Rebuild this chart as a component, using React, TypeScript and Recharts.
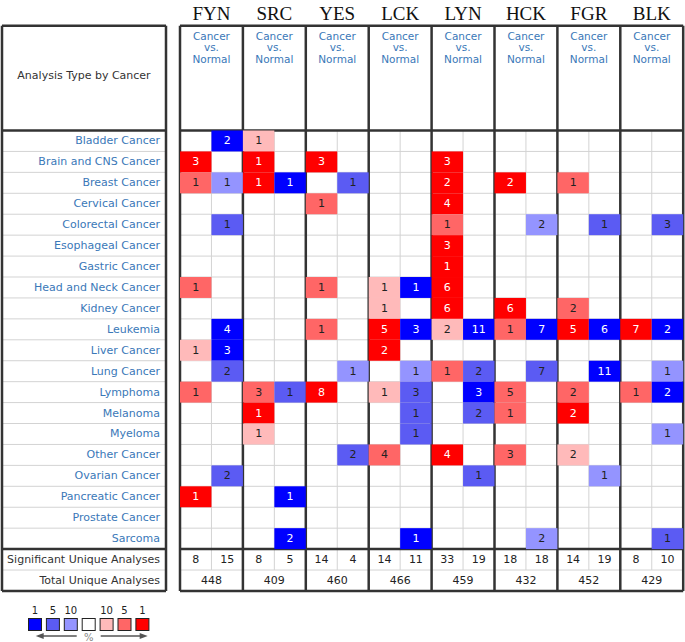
import React from "react";
import { ScatterChart, Scatter, XAxis, YAxis, ReferenceLine } from "recharts";

// ---- data ----
const GENES = ["FYN", "SRC", "YES", "LCK", "LYN", "HCK", "FGR", "BLK"];

const CANCERS = [
  "Bladder Cancer",
  "Brain and CNS Cancer",
  "Breast Cancer",
  "Cervical Cancer",
  "Colorectal Cancer",
  "Esophageal Cancer",
  "Gastric Cancer",
  "Head and Neck Cancer",
  "Kidney Cancer",
  "Leukemia",
  "Liver Cancer",
  "Lung Cancer",
  "Lymphoma",
  "Melanoma",
  "Myeloma",
  "Other Cancer",
  "Ovarian Cancer",
  "Pancreatic Cancer",
  "Prostate Cancer",
  "Sarcoma",
];

// [cancer, direction, number of analyses, gene rank threshold %]
type Entry = [string, "up" | "down", number, number];

const FYN: Entry[] = [
  ["Bladder Cancer", "down", 2, 1],
  ["Brain and CNS Cancer", "up", 3, 1],
  ["Breast Cancer", "up", 1, 5],
  ["Breast Cancer", "down", 1, 10],
  ["Colorectal Cancer", "down", 1, 5],
  ["Head and Neck Cancer", "up", 1, 5],
  ["Leukemia", "down", 4, 1],
  ["Liver Cancer", "up", 1, 10],
  ["Liver Cancer", "down", 3, 1],
  ["Lung Cancer", "down", 2, 5],
  ["Lymphoma", "up", 1, 5],
  ["Ovarian Cancer", "down", 2, 5],
  ["Pancreatic Cancer", "up", 1, 1],
];

const SRC: Entry[] = [
  ["Bladder Cancer", "up", 1, 10],
  ["Brain and CNS Cancer", "up", 1, 1],
  ["Breast Cancer", "up", 1, 1],
  ["Breast Cancer", "down", 1, 1],
  ["Lymphoma", "up", 3, 5],
  ["Lymphoma", "down", 1, 5],
  ["Melanoma", "up", 1, 1],
  ["Myeloma", "up", 1, 10],
  ["Pancreatic Cancer", "down", 1, 1],
  ["Sarcoma", "down", 2, 1],
];

const YES: Entry[] = [
  ["Brain and CNS Cancer", "up", 3, 1],
  ["Breast Cancer", "down", 1, 5],
  ["Cervical Cancer", "up", 1, 5],
  ["Head and Neck Cancer", "up", 1, 5],
  ["Leukemia", "up", 1, 5],
  ["Lung Cancer", "down", 1, 10],
  ["Lymphoma", "up", 8, 1],
  ["Other Cancer", "down", 2, 5],
];

const LCK: Entry[] = [
  ["Head and Neck Cancer", "up", 1, 10],
  ["Head and Neck Cancer", "down", 1, 1],
  ["Kidney Cancer", "up", 1, 10],
  ["Leukemia", "up", 5, 1],
  ["Leukemia", "down", 3, 1],
  ["Liver Cancer", "up", 2, 1],
  ["Lung Cancer", "down", 1, 10],
  ["Lymphoma", "up", 1, 10],
  ["Lymphoma", "down", 3, 5],
  ["Melanoma", "down", 1, 5],
  ["Myeloma", "down", 1, 5],
  ["Other Cancer", "up", 4, 5],
  ["Sarcoma", "down", 1, 1],
];

const LYN: Entry[] = [
  ["Brain and CNS Cancer", "up", 3, 1],
  ["Breast Cancer", "up", 2, 1],
  ["Cervical Cancer", "up", 4, 1],
  ["Colorectal Cancer", "up", 1, 5],
  ["Esophageal Cancer", "up", 3, 1],
  ["Gastric Cancer", "up", 1, 1],
  ["Head and Neck Cancer", "up", 6, 1],
  ["Kidney Cancer", "up", 6, 1],
  ["Leukemia", "up", 2, 10],
  ["Leukemia", "down", 11, 1],
  ["Lung Cancer", "up", 1, 5],
  ["Lung Cancer", "down", 2, 5],
  ["Lymphoma", "down", 3, 1],
  ["Melanoma", "down", 2, 5],
  ["Other Cancer", "up", 4, 1],
  ["Ovarian Cancer", "down", 1, 5],
];

const HCK: Entry[] = [
  ["Breast Cancer", "up", 2, 1],
  ["Colorectal Cancer", "down", 2, 10],
  ["Kidney Cancer", "up", 6, 1],
  ["Leukemia", "up", 1, 5],
  ["Leukemia", "down", 7, 1],
  ["Lung Cancer", "down", 7, 5],
  ["Lymphoma", "up", 5, 5],
  ["Melanoma", "up", 1, 5],
  ["Other Cancer", "up", 3, 5],
  ["Sarcoma", "down", 2, 10],
];

const FGR: Entry[] = [
  ["Breast Cancer", "up", 1, 5],
  ["Colorectal Cancer", "down", 1, 5],
  ["Kidney Cancer", "up", 2, 5],
  ["Leukemia", "up", 5, 1],
  ["Leukemia", "down", 6, 1],
  ["Lung Cancer", "down", 11, 1],
  ["Lymphoma", "up", 2, 5],
  ["Melanoma", "up", 2, 1],
  ["Other Cancer", "up", 2, 10],
  ["Ovarian Cancer", "down", 1, 10],
];

const BLK: Entry[] = [
  ["Colorectal Cancer", "down", 3, 5],
  ["Leukemia", "up", 7, 1],
  ["Leukemia", "down", 2, 1],
  ["Lung Cancer", "down", 1, 10],
  ["Lymphoma", "up", 1, 5],
  ["Lymphoma", "down", 2, 1],
  ["Myeloma", "down", 1, 10],
  ["Sarcoma", "down", 1, 5],
];

const GENE_ENTRIES = [FYN, SRC, YES, LCK, LYN, HCK, FGR, BLK];

const SIG_UP = [8, 8, 14, 14, 33, 18, 14, 8];
const SIG_DOWN = [15, 5, 4, 11, 19, 18, 19, 10];
const TOTAL = [448, 409, 460, 466, 459, 432, 452, 429];

const LEGEND_PCT = ["1", "5", "10", "", "10", "5", "1"];

// ---- styling / layout ----
const W = 685;
const H = 642;
const CELL_W = 31.45;
const CELL_H = 20.93;
const GRID_LEFT = 180;
const GRID_TOP = 130.5;
const X_MIN = -GRID_LEFT / CELL_W;
const X_MAX = (W - GRID_LEFT) / CELL_W;
const Y_MIN = -GRID_TOP / CELL_H;
const Y_MAX = (H - GRID_TOP) / CELL_H;
const ux = (px: number) => (px - GRID_LEFT) / CELL_W;
const uy = (px: number) => (px - GRID_TOP) / CELL_H;

const UP_COLORS: Record<number, string> = { 1: "#ff0000", 5: "#ff6666", 10: "#ffbaba" };
const DOWN_COLORS: Record<number, string> = { 1: "#0000ff", 5: "#5b5bf3", 10: "#9494ff" };
const LEGEND_COLORS = [DOWN_COLORS[1], DOWN_COLORS[5], DOWN_COLORS[10], "#ffffff", UP_COLORS[10], UP_COLORS[5], UP_COLORS[1]];

const SANS = "'DejaVu Sans', Verdana, sans-serif";
const SERIF = "'Liberation Serif', 'Times New Roman', serif";
const BLUE_TEXT = "#3a78b8";
const DARK = "#333";
const THIN = "#d3d3d3";

const N_ROWS = CANCERS.length;
const N_COLS = GENES.length * 2;
const TABLE_L = ux(2);
const TABLE_R = ux(166);

const cells = GENE_ENTRIES.flatMap((entries, g) =>
  entries.map(([cancer, dir, v, pct]) => ({
    x: g * 2 + (dir === "up" ? 0 : 1) + 0.5,
    y: CANCERS.indexOf(cancer) + 0.5,
    v,
    fill: dir === "up" ? UP_COLORS[pct] : DOWN_COLORS[pct],
    ink: pct === 1 ? "#ffffff" : "#222",
  }))
);

const summaryCells = [
  ...SIG_UP.map((v, g) => ({ x: g * 2 + 0.5, y: N_ROWS + 0.5, v })),
  ...SIG_DOWN.map((v, g) => ({ x: g * 2 + 1.5, y: N_ROWS + 0.5, v })),
  ...TOTAL.map((v, g) => ({ x: g * 2 + 1, y: N_ROWS + 1.5, v })),
];

const rowLabels = [
  ...CANCERS.map((name, i) => ({ x: ux(160), y: i + 0.5, name, color: BLUE_TEXT })),
  { x: ux(160), y: N_ROWS + 0.5, name: "Significant Unique Analyses", color: DARK },
  { x: ux(160), y: N_ROWS + 1.5, name: "Total Unique Analyses", color: DARK },
];

const geneHeads = GENES.map((name, g) => ({ x: g * 2 + 1, y: uy(13), name }));
const subHeads = GENES.map((_, g) => ({ x: g * 2 + 1, y: uy(47) }));
const legendItems = LEGEND_COLORS.map((color, i) => ({
  x: ux(35 + i * 17.9),
  y: uy(624.5),
  color,
  label: LEGEND_PCT[i],
}));

// ---- shapes ----
const CellShape = (p: any) => (
  <g>
    <rect x={p.cx - CELL_W / 2} y={p.cy - CELL_H / 2} width={CELL_W} height={CELL_H} fill={p.payload.fill} />
    <text x={p.cx} y={p.cy} textAnchor="middle" dominantBaseline="central" fontSize={11} fontFamily={SANS} fill={p.payload.ink}>
      {p.payload.v}
    </text>
  </g>
);

const SummaryShape = (p: any) => (
  <text x={p.cx} y={p.cy} textAnchor="middle" dominantBaseline="central" fontSize={11} fontFamily={SANS} fill="#222">
    {p.payload.v}
  </text>
);

const RowLabelShape = (p: any) => (
  <text x={p.cx} y={p.cy} textAnchor="end" dominantBaseline="central" fontSize={11} fontFamily={SANS} fill={p.payload.color}>
    {p.payload.name}
  </text>
);

const GeneShape = (p: any) => (
  <text x={p.cx} y={p.cy} textAnchor="middle" dominantBaseline="central" fontSize={19} fontFamily={SERIF} fill="#111">
    {p.payload.name}
  </text>
);

// "Cancer / vs. / Normal" stacked in three lines
const SubHeadShape = (p: any) => (
  <g>
    {["Cancer", "vs.", "Normal"].map((line, i) => (
      <text
        key={line}
        x={p.cx}
        y={p.cy + (i - 1) * 11.5}
        textAnchor="middle"
        dominantBaseline="central"
        fontSize={10.5}
        fontFamily={SANS}
        fill={BLUE_TEXT}
      >
        {line}
      </text>
    ))}
  </g>
);

const LegendShape = (p: any) => (
  <g>
    <rect x={p.cx - 6.5} y={p.cy - 6} width={13} height={12} fill={p.payload.color} stroke="#222" strokeWidth={1} />
    <text x={p.cx} y={p.cy - 14} textAnchor="middle" dominantBaseline="central" fontSize={10} fontFamily={SANS} fill="#222">
      {p.payload.label}
    </text>
  </g>
);

// arrows under the legend, anchored on the middle (white) square
const ArrowShape = (p: any) => {
  if (p.payload.label !== "") return <g />;
  const y = p.cy + 11.5;
  return (
    <g stroke="#555" fill="#555">
      <line x1={p.cx - 12} y1={y} x2={p.cx - 48} y2={y} strokeWidth={1.5} />
      <polygon points={`${p.cx - 53},${y} ${p.cx - 45},${y - 3} ${p.cx - 45},${y + 3}`} stroke="none" />
      <line x1={p.cx + 12} y1={y} x2={p.cx + 54} y2={y} strokeWidth={1.5} />
      <polygon points={`${p.cx + 59},${y} ${p.cx + 51},${y - 3} ${p.cx + 51},${y + 3}`} stroke="none" />
      <text x={p.cx} y={y + 1} textAnchor="middle" dominantBaseline="central" fontSize={10} fontFamily={SANS} fill="#888" stroke="none">
        %
      </text>
    </g>
  );
};

// ---- grid lines ----
const thinH = [...Array.from({ length: N_ROWS - 1 }, (_, i) => i + 1), N_ROWS + 1];
const thinV = GENES.map((_, g) => g * 2 + 1);
const thickH = [-5, 0, N_ROWS, N_ROWS + 2];
const thickV = Array.from({ length: GENES.length + 1 }, (_, g) => g * 2);

export default function App() {
  return (
    <div style={{ position: "absolute", left: 0, top: 0, width: W, height: H, background: "#fff" }}>
      <ScatterChart width={W} height={H} margin={{ top: 0, right: 0, bottom: 0, left: 0 }}>
        <XAxis type="number" dataKey="x" domain={[X_MIN, X_MAX]} allowDataOverflow hide />
        <YAxis type="number" dataKey="y" domain={[Y_MIN, Y_MAX]} allowDataOverflow reversed hide />

        <Scatter data={cells} shape={CellShape} isAnimationActive={false} />

        {thinH.map((y) => (
          <ReferenceLine key={`th${y}`} segment={[{ x: 0, y }, { x: N_COLS, y }]} stroke={THIN} strokeWidth={1} />
        ))}
        {thinH.map((y) => (
          <ReferenceLine key={`tl${y}`} segment={[{ x: TABLE_L, y }, { x: TABLE_R, y }]} stroke={THIN} strokeWidth={1} />
        ))}
        {thinV.map((x) => (
          <ReferenceLine key={`tv${x}`} segment={[{ x, y: 0 }, { x, y: N_ROWS + 1 }]} stroke={THIN} strokeWidth={1} />
        ))}
        {thickH.map((y) => (
          <ReferenceLine key={`kh${y}`} segment={[{ x: 0, y }, { x: N_COLS, y }]} stroke={DARK} strokeWidth={2.5} />
        ))}
        {thickH.map((y) => (
          <ReferenceLine key={`kl${y}`} segment={[{ x: TABLE_L, y }, { x: TABLE_R, y }]} stroke={DARK} strokeWidth={2.5} />
        ))}
        {thickV.map((x) => (
          <ReferenceLine key={`kv${x}`} segment={[{ x, y: -5 }, { x, y: N_ROWS + 2 }]} stroke={DARK} strokeWidth={2.5} />
        ))}
        {[TABLE_L, TABLE_R].map((x) => (
          <ReferenceLine key={`kt${x}`} segment={[{ x, y: -5 }, { x, y: N_ROWS + 2 }]} stroke={DARK} strokeWidth={2.5} />
        ))}

        <Scatter data={summaryCells} shape={SummaryShape} isAnimationActive={false} />
        <Scatter data={rowLabels} shape={RowLabelShape} isAnimationActive={false} />
        <Scatter data={geneHeads} shape={GeneShape} isAnimationActive={false} />
        <Scatter data={subHeads} shape={SubHeadShape} isAnimationActive={false} />
        <Scatter
          data={[{ x: ux(84), y: uy(75), name: "Analysis Type by Cancer" }]}
          shape={(p: any) => (
            <text x={p.cx} y={p.cy} textAnchor="middle" dominantBaseline="central" fontSize={11} fontFamily={SANS} fill={DARK}>
              {p.payload.name}
            </text>
          )}
          isAnimationActive={false}
        />
        <Scatter data={legendItems} shape={LegendShape} isAnimationActive={false} />
        <Scatter data={legendItems} shape={ArrowShape} isAnimationActive={false} />
      </ScatterChart>
    </div>
  );
}
